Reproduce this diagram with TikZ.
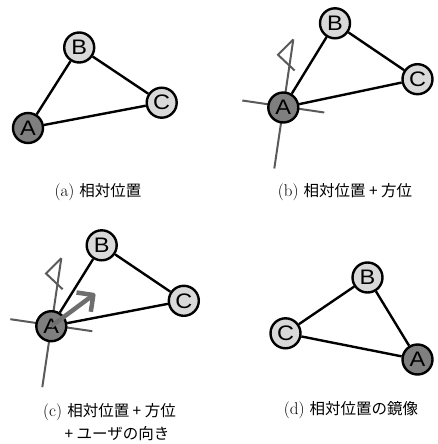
\documentclass[tikz,border=0pt]{standalone}
\usepackage{fontspec}
\newfontfamily\jp{Noto Sans CJK JP}
\newfontfamily\lbl[FakeStretch=1.12]{Liberation Sans}
\definecolor{selfgray}{HTML}{7F7F7F}
\definecolor{othergray}{HTML}{D9D9D9}
\definecolor{compgray}{HTML}{5A5A5A}
\definecolor{arrowgray}{HTML}{6E6E6E}
\newcommand{\tagfont}{\fontsize{17}{20}\selectfont}
\newcommand{\jpfont}{\jp\fontsize{15.5}{20}\selectfont}
\begin{document}
\begin{tikzpicture}[x=1pt,y=-1pt,
  vtx/.style={circle,draw=black,line width=2.4pt,minimum size=30pt,inner sep=0pt,font=\lbl\fontsize{21}{21}\selectfont},
  selfnode/.style={vtx,fill=selfgray},
  othernode/.style={vtx,fill=othergray},
  edge/.style={line width=2.4pt,black},
  compass/.style={line width=2pt,compgray},
  heading/.style={line width=4.5pt,arrowgray,line join=round},
  captext/.style={inner sep=0pt}
]
\useasboundingbox (0,0) rectangle (437,444);

% ---------- (a) ----------
\node[selfnode] (aA) at (28,128) {A};
\node[othernode] (aB) at (79.2,47.5) {B};
\node[othernode] (aC) at (161.7,102.7) {C};
\draw[edge] (aA) -- (aB);
\draw[edge] (aB) -- (aC);
\draw[edge] (aA) -- (aC);
\node[captext] (capa) at (98,192) {\tagfont(a) {\jpfont 相対位置}};

% ---------- (b) ----------
\begin{scope}[shift={(283.3,107.5)}]
  \coordinate (bN) at (10,-68);
  \coordinate (bS) at (-9,61);
  \coordinate (bW) at (-41,-7);
  \coordinate (bE) at (41,5);
  \coordinate (bF1) at (-5.3,-52.7);
  \coordinate (bF2) at (11.3,-37);
\end{scope}
\draw[compass] (bS) -- (bN);
\draw[compass] (bW) -- (bE);
\draw[compass,line join=miter] (bN) -- (bF1) -- (bF2);
\node[selfnode] (bA) at (283.3,107.5) {A};
\node[othernode] (bB) at (335,23.3) {B};
\node[othernode] (bC) at (417.5,79.2) {C};
\draw[edge] (bA) -- (bB);
\draw[edge] (bB) -- (bC);
\draw[edge] (bA) -- (bC);
\node[captext] (capb) at (345,192) {\tagfont(b) {\jpfont 相対位置 + 方位}};

% ---------- (c) ----------
\begin{scope}[shift={(51.3,326.2)}]
  \coordinate (cN) at (10,-68);
  \coordinate (cS) at (-9,61);
  \coordinate (cW) at (-41,-7);
  \coordinate (cE) at (41,5);
  \coordinate (cF1) at (-5.3,-52.7);
  \coordinate (cF2) at (11.3,-37);
\end{scope}
\draw[compass] (cS) -- (cN);
\draw[compass] (cW) -- (cE);
\draw[compass,line join=miter] (cN) -- (cF1) -- (cF2);
\node[selfnode] (cA) at (51.3,326.2) {A};
\node[othernode] (cB) at (101.7,245.3) {B};
\node[othernode] (cC) at (183.8,300.8) {C};
\draw[edge] (cA) -- (cB);
\draw[edge] (cB) -- (cC);
\draw[edge] (cA) -- (cC);
\coordinate (ctip) at (93.3,295);
\coordinate (carm1) at (76.5,292.5);
\coordinate (carm2) at (90.8,311.8);
\draw[heading] (cA.center) -- (ctip);
\draw[heading] (carm1) -- (ctip) -- (carm2);
\node[captext] (capc1) at (109.5,412) {\tagfont(c) {\jpfont 相対位置 + 方位}};
\node[captext] (capc2) at (117,433.3) {\jpfont + ユーザの向き};

% ---------- (d) ----------
\node[selfnode] (dA) at (417.5,359.5) {A};
\node[othernode] (dB) at (367.5,277.5) {B};
\node[othernode] (dC) at (285.5,333.3) {C};
\draw[edge] (dA) -- (dB);
\draw[edge] (dB) -- (dC);
\draw[edge] (dA) -- (dC);
\node[captext] (capd) at (351,410) {\tagfont(d) {\jpfont 相対位置の鏡像}};
\end{tikzpicture}
\end{document}
